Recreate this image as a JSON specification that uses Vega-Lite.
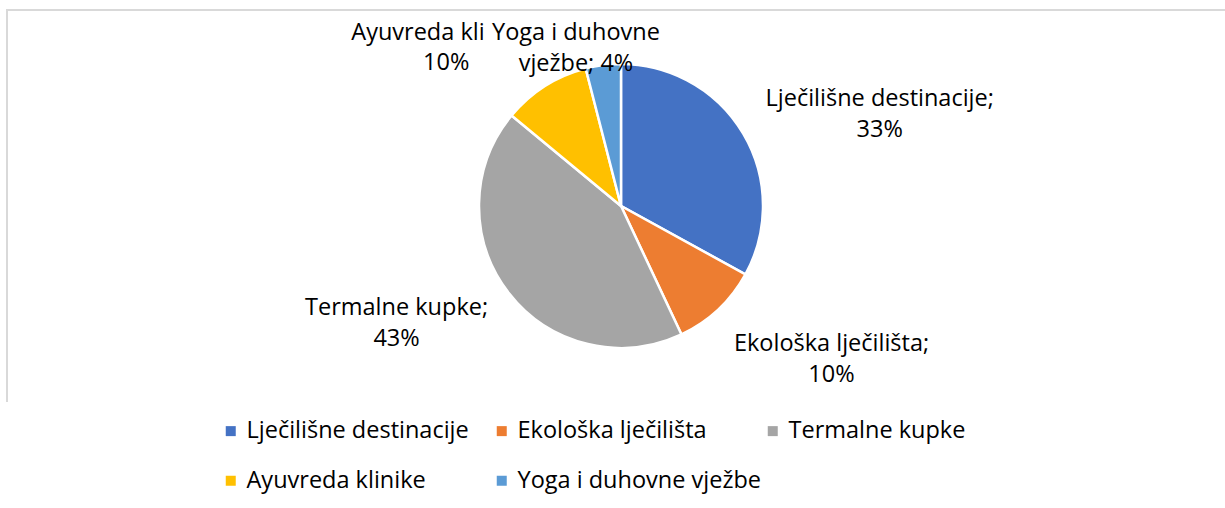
{
  "$schema": "https://vega.github.io/schema/vega-lite/v6.json",
  "width": 1228,
  "height": 392,
  "autosize": {"type": "none"},
  "padding": {"left": 7, "top": 10, "right": -10, "bottom": 106},
  "background": "white",
  "config": {
    "view": {"stroke": null},
    "text": {"font": "Open Sans"}
  },
  "data": {
    "values": [
      {"kategorija": "Lječilišne destinacije", "udio": 0.33, "n": 1, "oznaka": "Lječilišne destinacije;\n33%"},
      {"kategorija": "Ekološka lječilišta", "udio": 0.10, "n": 2, "oznaka": "Ekološka lječilišta;\n10%"},
      {"kategorija": "Termalne kupke", "udio": 0.43, "n": 3, "oznaka": "Termalne kupke;\n43%"},
      {"kategorija": "Ayuvreda klinike", "udio": 0.10, "n": 4, "oznaka": "Ayuvreda klinike;\n10%"},
      {"kategorija": "Yoga i duhovne vježbe", "udio": 0.04, "n": 5, "oznaka": "Yoga i duhovne\nvježbe; 4%"}
    ]
  },
  "layer": [
    {
      "mark": {"type": "rect", "fill": null, "stroke": "#D9D9D9", "strokeWidth": 2, "strokeDash": [1228, 1620, 392, 1]},
      "encoding": {}
    },
    {
      "mark": {"type": "arc", "outerRadius": 142, "stroke": "white", "strokeWidth": 2.5},
      "encoding": {
        "theta": {"field": "udio", "type": "quantitative", "stack": true},
        "order": {"field": "n", "type": "quantitative"},
        "color": {
          "field": "kategorija",
          "type": "nominal",
          "scale": {
            "domain": ["Lječilišne destinacije", "Ekološka lječilišta", "Termalne kupke", "Ayuvreda klinike", "Yoga i duhovne vježbe"],
            "range": ["#4472C4", "#ED7D31", "#A5A5A5", "#FFC000", "#5B9BD5"]
          },
          "legend": {
            "title": null,
            "orient": "none",
            "legendX": 212,
            "legendY": 409,
            "direction": "horizontal",
            "columns": 3,
            "symbolType": "square",
            "symbolSize": 100,
            "symbolStrokeWidth": 0,
            "labelFont": "Open Sans",
            "labelFontSize": 23.5,
            "labelColor": "#000000",
            "labelLimit": 400,
            "labelOffset": 4,
            "columnPadding": 0,
            "rowPadding": 25,
            "gridAlign": "all",
            "padding": 0
          }
        }
      }
    },
    {
      "mark": {"type": "text", "radius": 160, "dx": 121, "dy": -26, "align": "center", "baseline": "middle", "lineBreak": "\n", "lineHeight": 31, "font": "Open Sans", "fontSize": 23.5, "color": "#000000"},
      "encoding": {
        "theta": {"field": "udio", "type": "quantitative", "stack": true},
        "order": {"field": "n", "type": "quantitative"},
        "detail": {"field": "kategorija", "type": "nominal"},
        "text": {"condition": {"test": "datum.n === 1", "field": "oznaka", "type": "nominal"}, "value": ""}
      }
    },
    {
      "mark": {"type": "text", "radius": 160, "dx": 101, "dy": 21, "align": "center", "baseline": "middle", "lineBreak": "\n", "lineHeight": 31, "font": "Open Sans", "fontSize": 23.5, "color": "#000000"},
      "encoding": {
        "theta": {"field": "udio", "type": "quantitative", "stack": true},
        "order": {"field": "n", "type": "quantitative"},
        "detail": {"field": "kategorija", "type": "nominal"},
        "text": {"condition": {"test": "datum.n === 2", "field": "oznaka", "type": "nominal"}, "value": ""}
      }
    },
    {
      "mark": {"type": "text", "radius": 160, "dx": -98, "dy": 4, "align": "center", "baseline": "middle", "lineBreak": "\n", "lineHeight": 31, "font": "Open Sans", "fontSize": 23.5, "color": "#000000"},
      "encoding": {
        "theta": {"field": "udio", "type": "quantitative", "stack": true},
        "order": {"field": "n", "type": "quantitative"},
        "detail": {"field": "kategorija", "type": "nominal"},
        "text": {"condition": {"test": "datum.n === 3", "field": "oznaka", "type": "nominal"}, "value": ""}
      }
    },
    {
      "mark": {"type": "text", "radius": 160, "dx": -184, "dy": -38, "align": "left", "baseline": "middle", "limit": 134, "ellipsis": "\u200b", "font": "Open Sans", "fontSize": 23.5, "color": "#000000"},
      "encoding": {
        "theta": {"field": "udio", "type": "quantitative", "stack": true},
        "order": {"field": "n", "type": "quantitative"},
        "detail": {"field": "kategorija", "type": "nominal"},
        "text": {"condition": {"test": "datum.n === 4", "field": "kategorija", "type": "nominal"}, "value": ""}
      }
    },
    {
      "mark": {"type": "text", "radius": 160, "dx": -89, "dy": -8, "align": "center", "baseline": "middle", "font": "Open Sans", "fontSize": 23.5, "color": "#000000"},
      "encoding": {
        "theta": {"field": "udio", "type": "quantitative", "stack": true},
        "order": {"field": "n", "type": "quantitative"},
        "detail": {"field": "kategorija", "type": "nominal"},
        "text": {"condition": {"test": "datum.n === 4", "field": "udio", "type": "quantitative", "format": ".0%"}, "value": ""}
      }
    },
    {
      "mark": {"type": "text", "radius": 160, "dx": -25, "dy": -14, "align": "center", "baseline": "middle", "lineBreak": "\n", "lineHeight": 31, "font": "Open Sans", "fontSize": 23.5, "color": "#000000"},
      "encoding": {
        "theta": {"field": "udio", "type": "quantitative", "stack": true},
        "order": {"field": "n", "type": "quantitative"},
        "detail": {"field": "kategorija", "type": "nominal"},
        "text": {"condition": {"test": "datum.n === 5", "field": "oznaka", "type": "nominal"}, "value": ""}
      }
    }
  ]
}
